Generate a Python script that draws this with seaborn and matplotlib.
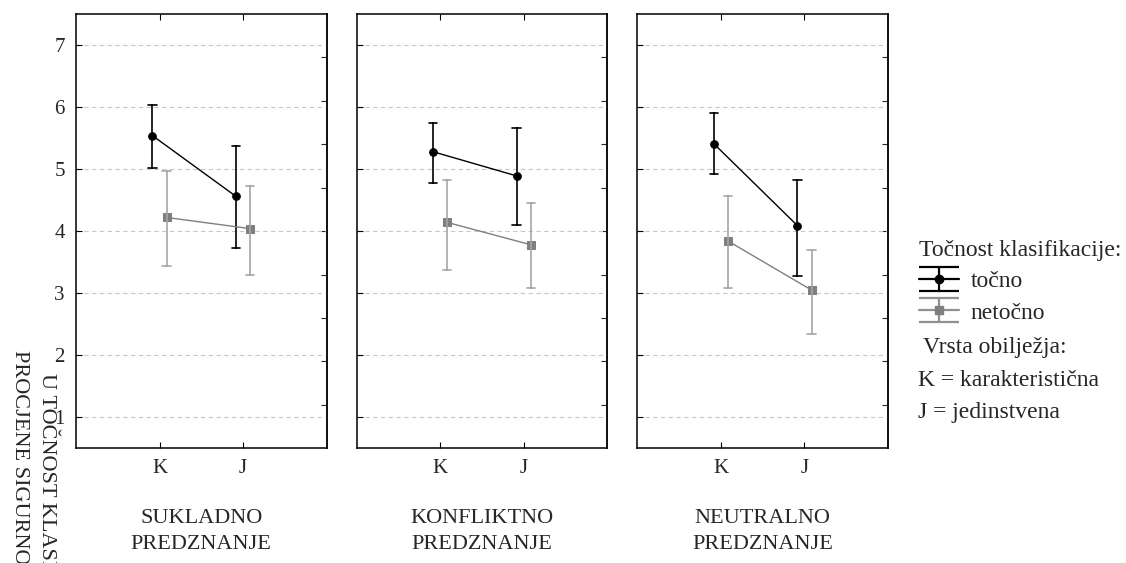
import numpy as np
import pandas as pd
import seaborn as sns
import matplotlib.pyplot as plt
import matplotlib.colors as mcolors
from matplotlib.lines import Line2D
from matplotlib.path import Path
from matplotlib.legend_handler import HandlerTuple

# values
conditions = ["SUKLADNO\nPREDZNANJE", "KONFLIKTNO\nPREDZNANJE", "NEUTRALNO\nPREDZNANJE"]
features = ["K", "J"]
accuracy = ["točno", "netočno"]

tocno_mean = [[5.54, 4.56], [5.28, 4.89], [5.41, 4.09]]
tocno_lo = [[5.01, 3.72], [4.77, 4.10], [4.92, 3.27]]
tocno_hi = [[6.04, 5.38], [5.74, 5.67], [5.90, 4.83]]

netocno_mean = [[4.22, 4.04], [4.14, 3.78], [3.84, 3.05]]
netocno_lo = [[3.43, 3.29], [3.37, 3.09], [3.09, 2.34]]
netocno_hi = [[4.97, 4.72], [4.83, 4.45], [4.57, 3.70]]

y_ticks = [1, 2, 3, 4, 5, 6, 7]
right_ticks = [1.2, 1.9, 2.6, 3.3, 4.0, 4.7, 5.4, 6.1, 6.8]

# long table: lo / mean / hi per cell -> median = mean, min/max = interval
rows = []
for ci, cond in enumerate(conditions):
    for fi, feat in enumerate(features):
        for acc, m, lo, hi in [("točno", tocno_mean, tocno_lo, tocno_hi),
                               ("netočno", netocno_mean, netocno_lo, netocno_hi)]:
            for v in (lo[ci][fi], m[ci][fi], hi[ci][fi]):
                rows.append({"uvjet": cond, "obiljezje": feat, "tocnost": acc, "procjena": v})
df = pd.DataFrame(rows)

sns.set_theme(style="ticks")
plt.rcParams["font.family"] = ["Liberation Serif", "DejaVu Serif"]

palette = {"točno": "black", "netočno": "#7f7f7f"}
err_grey = "#a6a6a6"

fig = plt.figure(figsize=(11.26, 5.63), dpi=100)
axes = fig.subplots(1, 3, sharey=True)
fig.subplots_adjust(left=0.0675, right=0.7886, bottom=0.204, top=0.975, wspace=0.12)

for ax, cond in zip(axes, conditions):
    sub = df[df["uvjet"] == cond]
    sns.pointplot(data=sub, x="obiljezje", y="procjena", hue="tocnost",
                  order=features, hue_order=accuracy, palette=palette,
                  estimator="median", errorbar=lambda v: (v.min(), v.max()),
                  markers=["o", "s"], linestyles=["-", "-"], dodge=0.17,
                  capsize=0.1, markersize=5.5, linewidth=1.0,
                  err_kws={"linewidth": 1.2}, legend=False, ax=ax)
    # lighter grey for the netočno error bars
    for ln in ax.lines:
        if ln.get_marker() in ("None", None, "") and \
                mcolors.to_hex(ln.get_color()) == "#7f7f7f":
            ln.set_color(err_grey)

    ax.set_xlim(-1, 2)
    ax.set_ylim(0.5, 7.5)
    ax.set_yticks(y_ticks)
    ax.set_ylabel("")
    ax.set_xlabel(cond, fontsize=16, labelpad=22, linespacing=1.5)
    ax.yaxis.grid(True, linestyle=(0, (4, 3)), color="#c8c8c8", linewidth=0.8)
    ax.set_axisbelow(True)
    ax.tick_params(direction="in", length=4, width=0.8, top=True, right=False,
                   labelsize=15, color="black", pad=8)
    for s in ax.spines.values():
        s.set_visible(True)
        s.set_color("black")
        s.set_linewidth(1.1)
    sec = ax.secondary_yaxis("right")
    sec.set_yticks(right_ticks)
    sec.tick_params(direction="in", length=4, width=0.8, labelright=False)
    sec.spines["right"].set_linewidth(1.1)

axes[0].tick_params(labelleft=True)

# rotated y label, cut by the left/bottom edge as in the source
fig.text(0.017, 0.378, "PROCJENE SIGURNOSTI", rotation=270, ha="center", va="top", fontsize=16)
fig.text(0.041, 0.338, "U TOČNOST KLASIFIKACIJE", rotation=270, ha="center", va="top", fontsize=16)

# legend with error-bar style handles
ibar = Path([(-1, .6), (1, .6), (0, .6), (0, -.6), (-1, -.6), (1, -.6)],
            [Path.MOVETO, Path.LINETO, Path.MOVETO, Path.LINETO, Path.MOVETO, Path.LINETO])
handles = [
    (Line2D([], [], color="black", marker=ibar, ms=29, mew=1.6, ls="none"),
     Line2D([], [], color="black", lw=1.6, marker="o", ms=6)),
    (Line2D([], [], color="#909090", marker=ibar, ms=29, mew=1.6, ls="none"),
     Line2D([], [], color="#909090", lw=1.6, marker="s", ms=6, mfc="#7f7f7f", mec="#7f7f7f")),
]
fig.legend(handles, accuracy, handler_map={tuple: HandlerTuple(ndivide=1)},
           loc="upper left", bbox_to_anchor=(0.816, 0.574), frameon=False,
           title="Točnost klasifikacije:", title_fontsize=17, fontsize=17,
           handlelength=1.7, handletextpad=0.5, labelspacing=0.42, alignment="left",
           borderaxespad=0, borderpad=0)

fig.text(0.820, 0.383, "Vrsta obilježja:", fontsize=17, va="center")
fig.text(0.815, 0.324, "K = karakteristična", fontsize=17, va="center")
fig.text(0.815, 0.267, "J = jedinstvena", fontsize=17, va="center")

fig.savefig("out.png", dpi=100)
